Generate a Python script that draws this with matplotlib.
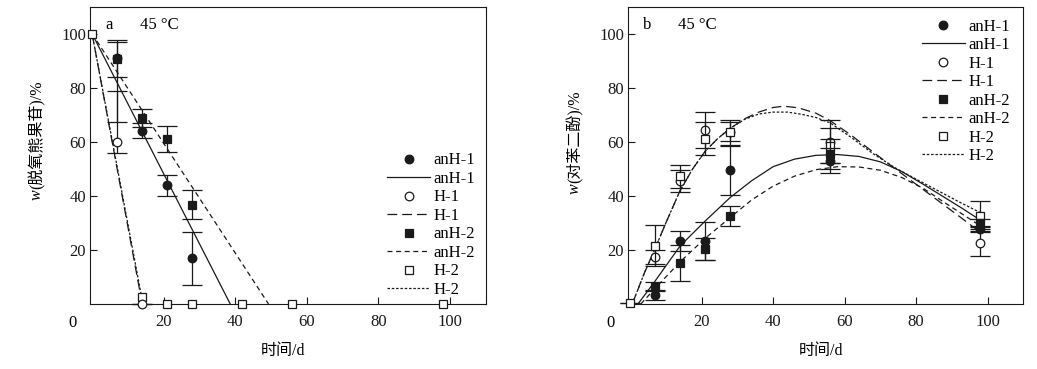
import matplotlib
matplotlib.use('Agg')
import matplotlib.pyplot as plt
from matplotlib.lines import Line2D

# 字体: 西文 Times 风格, 中文回退到 Noto Sans CJK
plt.rcParams['font.family'] = ['Liberation Serif', 'Noto Sans CJK SC']
plt.rcParams['lines.scale_dashes'] = False
plt.rcParams['font.size'] = 12

INK = '#1a1a1a'

# ---------------- 图 a: 脱氧熊果苷 ----------------
a_anh1_t = [7, 14, 21, 28]
a_anh1_y = [91, 64, 44, 17]
a_anh1_lo = [23.5, 2.5, 4.0, 10.0]
a_anh1_hi = [6.8, 3.0, 3.7, 9.6]

a_h1_t = [7, 14]
a_h1_y = [60, 0]
a_h1_lo = [4.0, 0]
a_h1_hi = [18.7, 0]

a_anh2_t = [7, 14, 21, 28]
a_anh2_y = [90.5, 68.8, 61, 36.8]
a_anh2_err = [6.5, 3.3, 4.8, 5.2]

a_h2_t = [0, 14, 21, 28, 42, 56, 98]
a_h2_y = [100, 2.4, 0, 0, 0, 0, 0]

# 拟合直线 (起点, 与横轴交点)
a_fit_y = [100, 0]
a_fit_anh1_t = [0, 38.6]
a_fit_h1_t = [0, 14.0]
a_fit_anh2_t = [0, 49.3]
a_fit_h2_t = [0, 14.2]

# ---------------- 图 b: 对苯二酚 ----------------
b_anh1_t = [7, 14, 21, 28, 56, 98]
b_anh1_y = [3.2, 23.3, 23.3, 49.5, 53, 27.7]
b_anh1_err = [1.8, 3.6, 7.0, 9.0, 4.6, 1.2]

b_h1_t = [7, 14, 21, 28, 56, 98]
b_h1_y = [17.4, 45.6, 64.4, 63.5, 60, 22.7]
b_h1_err = [2.5, 4.0, 6.7, 4.5, 8.0, 5.0]

b_anh2_t = [7, 14, 21, 28, 56, 98]
b_anh2_y = [6.4, 15.1, 20.3, 32.6, 55.4, 30]
b_anh2_err = [1.7, 6.6, 4.2, 3.7, 5.5, 1.5]

b_h2_t = [0, 7, 14, 21, 28, 56, 98]
b_h2_y = [0.5, 21.5, 47.2, 61.2, 63.8, 58.5, 32.6]
b_h2_err = [0, 7.6, 4.2, 6.0, 3.6, 6.5, 5.6]

# 拟合曲线
b_fit_anh1_t = [2.2, 7, 14, 21, 28, 34, 40, 46, 52, 58, 64, 70, 76, 82, 88, 93, 98]
b_fit_anh1_y = [0, 8.5, 21.5, 30.7, 39.4, 45.6, 50.8, 53.6, 55, 55.3, 54.6, 52.6, 49, 44.3, 39.4, 35.3, 31]
b_fit_anh2_t = [3, 7, 14, 21, 28, 34, 40, 46, 52, 58, 64, 70, 76, 82, 88, 93, 98]
b_fit_anh2_y = [0, 5.8, 15.6, 24.3, 32, 38.5, 43.6, 47.3, 49.7, 50.8, 50.7, 49.5, 46.8, 42.8, 37.5, 33.2, 28.9]
b_fit_h1_t = [0.6, 4, 7, 10, 14, 17.5, 21, 24.5, 28, 32, 36, 40, 43, 47, 52, 56, 62, 68, 74, 80, 86, 92, 98]
b_fit_h1_y = [0, 11.5, 20.5, 30, 42, 50, 56.5, 61.2, 65, 68.5, 71, 72.7, 73.2, 72.6, 70.6, 67.8, 62.3, 56.2, 50.2, 44.3, 38.4, 32.5, 26.5]
b_fit_h2_t = [0.6, 4, 7, 10, 14, 17.5, 21, 24.5, 28, 32, 36, 40, 44, 48, 52, 56, 62, 68, 74, 80, 86, 92, 98]
b_fit_h2_y = [0, 11.5, 20.5, 30, 42, 50, 56.5, 61.2, 65, 68.3, 70.3, 71, 71, 70.2, 69, 67, 61.5, 55.6, 50.5, 46.2, 42, 37.8, 33.8]

labels = ['anH-1', 'H-1', 'anH-2', 'H-2']
markers = {'anH-1': ('o', INK), 'H-1': ('o', 'white'), 'anH-2': ('s', INK), 'H-2': ('s', 'white')}
dashes = {'anH-1': '-', 'H-1': (0, (7, 3.6)), 'anH-2': (0, (3.6, 2.6)), 'H-2': (0, (1.8, 1.3))}
MS = 6.2


def draw_points(ax, t, y, err, name, z):
    m, fc = markers[name]
    eb = ax.errorbar(t, y, yerr=err, fmt=m, ms=MS, mfc=fc, mec=INK, mew=0.9,
                     ecolor=INK, elinewidth=0.9, capsize=7, capthick=0.9, zorder=z)
    # 坐标轴边上的点不要被裁掉
    for art in eb.get_children():
        art.set_clip_on(False)


def style_axes(ax, panel, ylabel_rest, ylabel_y, legend_xy):
    ax.set_xlim(-0.5, 110)
    ax.set_ylim(0, 110)
    ax.set_xticks([20, 40, 60, 80, 100])
    ax.set_yticks([20, 40, 60, 80, 100])
    ax.tick_params(direction='in', length=5, width=0.8, labelsize=12, colors=INK)
    ax.tick_params(axis='x', pad=7)
    ax.tick_params(axis='y', pad=3)
    for s in ax.spines.values():
        s.set_linewidth(0.8)
        s.set_color(INK)
    ax.text(-0.046, -0.064, '0', transform=ax.transAxes, ha='center', va='center', fontsize=12)
    ax.text(0.048, 0.94, panel, transform=ax.transAxes, ha='center', va='center', fontsize=12)
    ax.text(0.125, 0.94, '45 °C', transform=ax.transAxes, ha='left', va='center', fontsize=12)
    ax.set_xlabel('时间/d', fontsize=11.5)
    ax.xaxis.set_label_coords(0.487, -0.13)

    # 纵轴标题: 斜体 w + 其余部分
    w = ax.text(-0.135, ylabel_y, 'w', transform=ax.transAxes, rotation=90,
                style='italic', ha='center', va='bottom', fontsize=11.5)
    ax.annotate(ylabel_rest, xy=(0.5, 1.0), xycoords=w, rotation=90,
                ha='center', va='bottom', fontsize=11.5)

    handles = []
    for name in labels:
        m, fc = markers[name]
        handles.append(Line2D([], [], ls='none', marker=m, ms=MS, mfc=fc, mec=INK, mew=0.9, label=name))
        handles.append(Line2D([], [], color=INK, lw=0.9, ls=dashes[name], label=name))
    ax.legend(handles=handles, loc='upper left', bbox_to_anchor=legend_xy, frameon=False,
              borderpad=0, borderaxespad=0, handlelength=2.6, handletextpad=0.2,
              labelspacing=0.15, fontsize=12)


fig = plt.figure(figsize=(10.37, 3.69), dpi=100)
ax_a = fig.add_axes([0.0871, 0.1762, 0.3813, 0.8056])
ax_b = fig.add_axes([0.6059, 0.1762, 0.3809, 0.8056])

# 图 a
ax_a.plot(a_fit_h2_t, a_fit_y, color=INK, lw=0.9, ls=dashes['H-2'], zorder=2)
ax_a.plot(a_fit_h1_t, a_fit_y, color=INK, lw=0.9, ls=dashes['H-1'], zorder=2)
ax_a.plot(a_fit_anh1_t, a_fit_y, color=INK, lw=0.9, ls=dashes['anH-1'], zorder=2)
ax_a.plot(a_fit_anh2_t, a_fit_y, color=INK, lw=0.9, ls=dashes['anH-2'], zorder=2)
draw_points(ax_a, a_h2_t, a_h2_y, None, 'H-2', 3)
draw_points(ax_a, a_h1_t, a_h1_y, [a_h1_lo, a_h1_hi], 'H-1', 4)
draw_points(ax_a, a_anh1_t, a_anh1_y, [a_anh1_lo, a_anh1_hi], 'anH-1', 5)
draw_points(ax_a, a_anh2_t, a_anh2_y, a_anh2_err, 'anH-2', 6)
style_axes(ax_a, 'a', '(脱氧熊果苷)/%', 0.35, (0.75, 0.51))

# 图 b
ax_b.plot(b_fit_h1_t, b_fit_h1_y, color=INK, lw=0.9, ls=dashes['H-1'], zorder=2)
ax_b.plot(b_fit_h2_t, b_fit_h2_y, color=INK, lw=0.9, ls=dashes['H-2'], zorder=2)
ax_b.plot(b_fit_anh1_t, b_fit_anh1_y, color=INK, lw=0.9, ls=dashes['anH-1'], zorder=2)
ax_b.plot(b_fit_anh2_t, b_fit_anh2_y, color=INK, lw=0.9, ls=dashes['anH-2'], zorder=2)
draw_points(ax_b, b_h1_t, b_h1_y, b_h1_err, 'H-1', 3)
draw_points(ax_b, b_h2_t, b_h2_y, b_h2_err, 'H-2', 4)
draw_points(ax_b, b_anh1_t, b_anh1_y, b_anh1_err, 'anH-1', 5)
draw_points(ax_b, b_anh2_t, b_anh2_y, b_anh2_err, 'anH-2', 6)
style_axes(ax_b, 'b', '(对苯二酚)/%', 0.37, (0.743, 0.96))

fig.savefig('out.png', dpi=100)
